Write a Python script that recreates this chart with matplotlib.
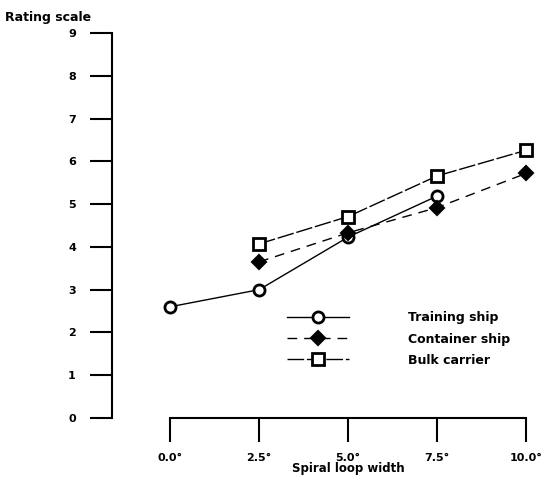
import numpy as np
import matplotlib.pyplot as plt

# Data
loop_width = [0.0, 2.5, 5.0, 7.5, 10.0]
tick_labels = ["0.0\u00b0", "2.5\u00b0", "5.0\u00b0", "7.5\u00b0", "10.0\u00b0"]

training_x = [0.0, 2.5, 5.0, 7.5]
training_y = [2.6, 3.0, 4.23, 5.19]

container_x = [2.5, 5.0, 7.5, 10.0]
container_y = [3.65, 4.33, 4.92, 5.72]

bulk_x = [2.5, 5.0, 7.5, 10.0]
bulk_y = [4.07, 4.71, 5.66, 6.26]

plt.rcParams['font.family'] = ['DejaVu Sans']
plt.rcParams['font.weight'] = 'bold'

fig = plt.figure(figsize=(5.47, 4.79), dpi=100)
ax = fig.add_axes([112 / 547, 1 - 418 / 479, 425 / 547, 385 / 479])

ax.plot(training_x, training_y, color='black', lw=1.0, ls='-',
        marker='o', ms=8, mfc='white', mec='black', mew=2, label='Training ship')
ax.plot(container_x, container_y, color='black', lw=1.0, ls=(0, (7, 5)),
        marker='D', ms=7, mfc='black', mec='black', mew=1.5, label='Container ship')
ax.plot(bulk_x, bulk_y, color='black', lw=1.0, ls=(0, (12, 2)),
        marker='s', ms=8, mfc='white', mec='black', mew=2, label='Bulk carrier')

ax.set_xlim(-1.63, 10.3)
ax.set_ylim(0, 9)

ax.set_xticks(loop_width)
ax.set_xticklabels(tick_labels)
ax.set_yticks(range(10))

for s in ['top', 'right']:
    ax.spines[s].set_visible(False)
ax.spines['bottom'].set_bounds(0, 10)
ax.spines['left'].set_linewidth(1.5)
ax.spines['bottom'].set_linewidth(1.5)

ax.tick_params(axis='y', direction='out', length=16, width=1.5, pad=10, labelsize=8)
ax.tick_params(axis='x', direction='out', length=17, width=1.5, pad=8, labelsize=8)
for lab in ax.get_xticklabels() + ax.get_yticklabels():
    lab.set_fontweight('bold')

ax.set_xlabel("Spiral loop width", fontsize=8.5, fontweight='bold', labelpad=0)
ax.xaxis.set_label_coords((5.0 + 1.63) / 11.93, -0.115)
fig.text(0.01, 0.978, "Rating scale", fontsize=9, fontweight='bold', va='top', ha='left')

leg = ax.legend(loc='center left', bbox_to_anchor=(0.385, 0.205), frameon=False,
                fontsize=9, handlelength=5.0, handletextpad=4.7, labelspacing=0.65)

fig.savefig("out.png", dpi=100)
